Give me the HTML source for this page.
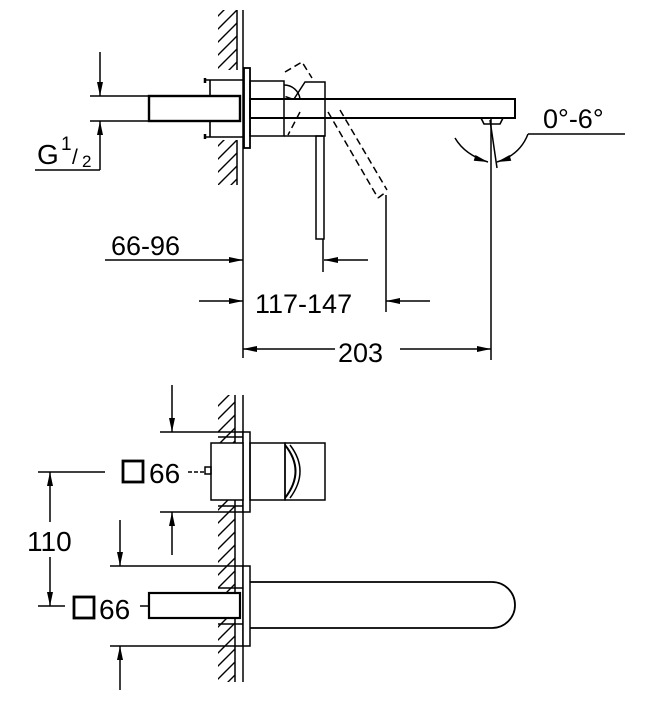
<!DOCTYPE html>
<html><head><meta charset="utf-8"><style>
html,body{margin:0;padding:0;background:#fff;}
svg{display:block;}
text{font-family:"Liberation Sans",sans-serif;fill:#000;}
</style></head><body>
<svg width="657" height="720" viewBox="0 0 657 720" xmlns="http://www.w3.org/2000/svg">
<defs>
<marker id="a" viewBox="0 0 14 6" refX="14" refY="3" markerWidth="15" markerHeight="6" markerUnits="userSpaceOnUse" orient="auto"><path d="M0,0 L14,3 L0,6 z" fill="#000"/></marker>
<pattern id="h" width="13" height="13" patternUnits="userSpaceOnUse"><path d="M0,13 L13,0 M-2,2 L2,-2 M11,15 L15,11" stroke="#000" stroke-width="1.4"/></pattern>
</defs>
<g fill="none" stroke="#000" stroke-width="1.5">
<!-- TOP VIEW wall -->
<rect x="218" y="10" width="19" height="60" fill="url(#h)" stroke="none"/>
<rect x="218" y="140" width="19" height="45" fill="url(#h)" stroke="none"/>
<line x1="237" y1="10" x2="237" y2="70"/><line x1="237" y1="140" x2="237" y2="185"/>
<line x1="243" y1="10" x2="243" y2="358"/>
<rect x="244" y="68" width="6" height="80" stroke-width="1.8" fill="#fff"/>
<path d="M205,80 H243 M205,137 H243 M210,80 V96 M210,121 V137" stroke-width="1.6"/>
<path d="M205,78 V83 M205,134 V139" stroke-width="2.5"/>
<rect x="149" y="96" width="91" height="25" stroke-width="2.4" fill="#fff"/>
<line x1="90" y1="96" x2="149" y2="96"/><line x1="90" y1="121" x2="149" y2="121"/>
<line x1="100" y1="52" x2="100" y2="96" marker-end="url(#a)"/>
<line x1="100" y1="170" x2="100" y2="121" marker-end="url(#a)"/>
<line x1="35" y1="170" x2="100" y2="170"/>
<rect x="250" y="81" width="34" height="55"/>
<rect x="250" y="99" width="265" height="19" stroke-width="2"/>
<path d="M294,99 L305,82 H325 V136 H284"/>
<rect x="316" y="136" width="8" height="103"/>
<path d="M284,85 A16,16 0 0 1 300,99" />
<g stroke-dasharray="7,4">
<path d="M285,72 L302,62 L312,78 M292,99 L284,96 M300,112 L288,135 M328,112 L378,198 M340,110 L387,190 M378,198 L386,192"/>
</g>
<line x1="386" y1="195" x2="386" y2="312"/>
<path d="M481,118 H503 L500,124 H484 Z" stroke-width="1.6"/>
<line x1="491" y1="118" x2="491" y2="360"/>
<line x1="490" y1="120" x2="497" y2="168"/>
<path d="M455,138 Q465,155 488,162" marker-end="url(#a)"/>
<path d="M528,134 Q520,155 497,162" marker-end="url(#a)"/>
<line x1="528" y1="134" x2="625" y2="134"/>
<line x1="323" y1="239" x2="323" y2="272"/>
<line x1="105" y1="260" x2="243" y2="260" marker-end="url(#a)"/>
<line x1="368" y1="260" x2="324" y2="260" marker-end="url(#a)"/>
<line x1="199" y1="301" x2="243" y2="301" marker-end="url(#a)"/>
<line x1="430" y1="301" x2="386" y2="301" marker-end="url(#a)"/>
<line x1="335" y1="349" x2="243" y2="349" marker-end="url(#a)"/>
<line x1="400" y1="349" x2="491" y2="349" marker-end="url(#a)"/>

<!-- BOTTOM VIEW wall -->
<rect x="218" y="395" width="17" height="287" fill="url(#h)" stroke="none"/>
<line x1="235" y1="395" x2="235" y2="682"/><line x1="243" y1="395" x2="243" y2="682"/>
<line x1="160" y1="432" x2="243" y2="432"/><line x1="160" y1="512" x2="243" y2="512"/>
<rect x="243" y="432" width="7" height="80" fill="#fff"/>
<path d="M218,437 H243 M218,506 H243"/>
<rect x="211" y="443" width="32" height="57" fill="#fff"/>
<rect x="250" y="443" width="35" height="57"/>
<rect x="285" y="443" width="40" height="57"/>
<path d="M285,445 Q306,471 285,498" stroke-width="2"/>
<path d="M290,445 Q310,471 290,498"/>
<path d="M205,467 H211 V474 H205 Z"/>
<line x1="188" y1="472" x2="205" y2="472" stroke-dasharray="4,2"/>
<line x1="172" y1="385" x2="172" y2="432" marker-end="url(#a)"/>
<line x1="172" y1="555" x2="172" y2="512" marker-end="url(#a)"/>
<line x1="38" y1="472" x2="105" y2="472"/><line x1="38" y1="606" x2="65" y2="606"/>
<line x1="50" y1="522" x2="50" y2="472" marker-end="url(#a)"/>
<line x1="50" y1="557" x2="50" y2="606" marker-end="url(#a)"/>
<line x1="110" y1="566" x2="243" y2="566"/><line x1="110" y1="646" x2="243" y2="646"/>
<rect x="243" y="566" width="7" height="80" fill="#fff"/>
<path d="M218,588 H243 M218,624 H243"/>
<rect x="149" y="593" width="91" height="25" stroke-width="2.2" fill="#fff"/>
<line x1="140" y1="606" x2="149" y2="606"/>
<path d="M250,582 H492 A23,23 0 0 1 492,628 H250" stroke-width="1.8"/>
<line x1="120" y1="520" x2="120" y2="566" marker-end="url(#a)"/>
<line x1="120" y1="690" x2="120" y2="646" marker-end="url(#a)"/>
<rect x="123" y="461" width="20" height="21" stroke-width="2.8"/>
<rect x="74" y="597" width="20" height="21" stroke-width="2.8"/>
</g>
<text x="37" y="164" font-size="28">G</text>
<text x="61" y="150" font-size="19">1</text>
<text x="72" y="164" font-size="21">/</text>
<text x="82" y="167" font-size="17">2</text>
<text x="543" y="128" font-size="27">0°-6°</text>
<text x="111" y="255" font-size="27">66-96</text>
<text x="255" y="313" font-size="27">117-147</text>
<text x="338" y="362" font-size="27">203</text>
<text x="149" y="483" font-size="28">66</text>
<text x="99" y="619" font-size="28">66</text>
<text x="27" y="551" font-size="28">110</text>
</svg>
</body></html>
